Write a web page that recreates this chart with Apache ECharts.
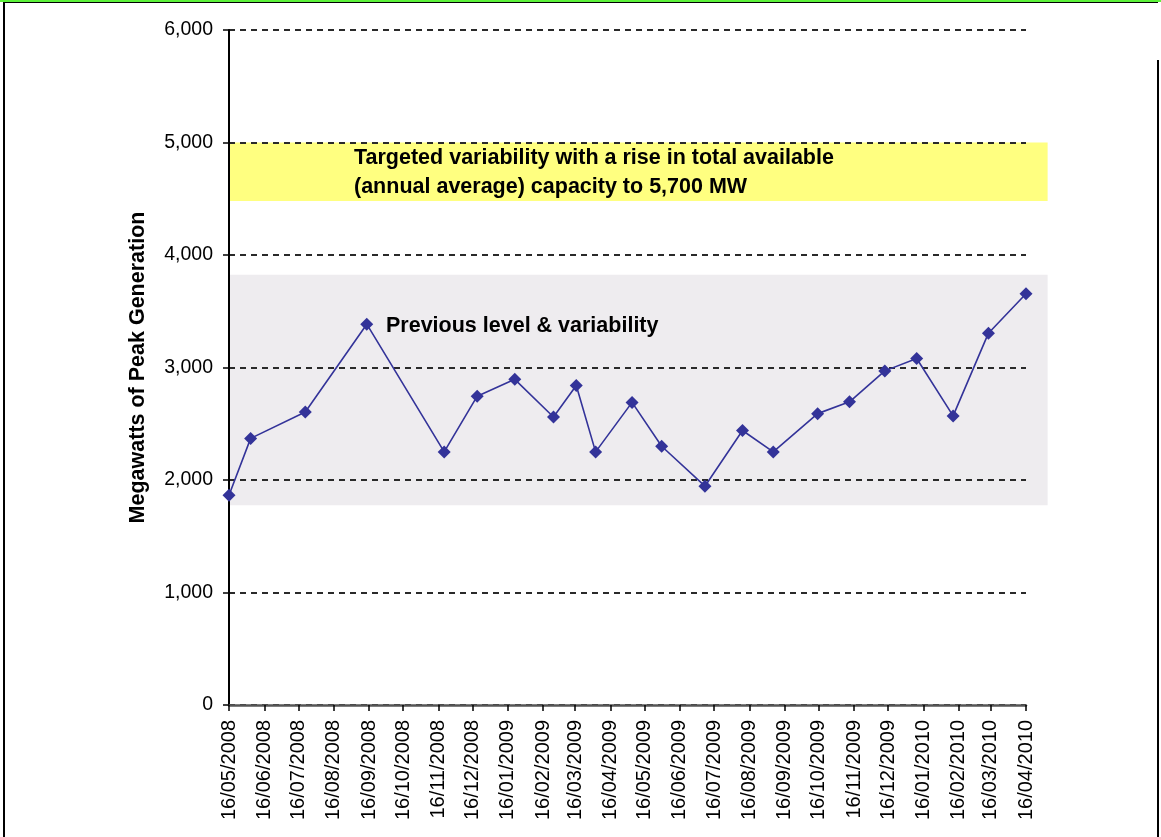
<!DOCTYPE html>
<html>
<head>
<meta charset="utf-8">
<title>Megawatts of Peak Generation</title>
<script src="https://cdn.jsdelivr.net/npm/echarts@6/dist/echarts.min.js"></script>
<style>
  html, body { margin: 0; padding: 0; background: #fff; }
  #chart { position: absolute; left: 0; top: 0; width: 1161px; height: 837px; }
  .edge-green { position: absolute; left: 0; top: 0; width: 1161px; height: 2px; background: #5cf23a; }
  .edge-top { position: absolute; left: 3px; top: 2px; width: 1155px; height: 1px; background: #000; }
  .edge-left { position: absolute; left: 3px; top: 2px; width: 2px; height: 835px; background: #000; }
  .edge-right { position: absolute; left: 1157px; top: 60px; width: 2px; height: 777px; background: #000; }
</style>
</head>
<body>
<div id="chart"></div>
<div class="edge-green"></div>
<div class="edge-top"></div>
<div class="edge-left"></div>
<div class="edge-right"></div>
<script>
// x axis tick labels (one per month, on the 16th)
const tickLabels = [
  '16/05/2008', '16/06/2008', '16/07/2008', '16/08/2008', '16/09/2008', '16/10/2008',
  '16/11/2008', '16/12/2008', '16/01/2009', '16/02/2009', '16/03/2009', '16/04/2009',
  '16/05/2009', '16/06/2009', '16/07/2009', '16/08/2009', '16/09/2009', '16/10/2009',
  '16/11/2009', '16/12/2009', '16/01/2010', '16/02/2010', '16/03/2010', '16/04/2010'
]

// peak generation readings (MW)
const pointDates = [
  '16/05/2008', '04/06/2008', '22/07/2008', '14/09/2008', '21/11/2008', '20/12/2008',
  '22/01/2009', '25/02/2009', '17/03/2009', '03/04/2009', '05/05/2009', '31/05/2009',
  '08/07/2009', '10/08/2009', '06/09/2009', '15/10/2009', '12/11/2009', '13/12/2009',
  '10/01/2010', '11/02/2010', '14/03/2010', '16/04/2010'
]
const peakMW = [
  1865, 2370, 2605, 3385, 2250, 2745,
  2895, 2560, 2840, 2250, 2690, 2300,
  1945, 2440, 2250, 2590, 2695, 2970,
  3080, 2570, 3305, 3655
]

// shaded bands: [low, high] in MW, spanning bandDates
const targetBand = [4480, 5000]
const previousBand = [1775, 3825]
const bandDates = ['16/05/2008', '05/05/2010']

const toTime = s => {
  const [d, m, y] = s.split('/').map(Number)
  return Date.UTC(y, m - 1, d)
}
const pad = n => (n < 10 ? '0' : '') + n
const fmtDate = v => {
  const d = new Date(v)
  return pad(d.getUTCDate()) + '/' + pad(d.getUTCMonth() + 1) + '/' + d.getUTCFullYear()
}

const tickTimes = tickLabels.map(toTime)
const font = 'Arial, "Liberation Sans", sans-serif'

const chart = echarts.init(document.getElementById('chart'))

const option = {
  animation: false,
  textStyle: { fontFamily: font },
  grid: { left: 229, right: 135, top: 30, bottom: 132 },
  xAxis: {
    type: 'value',
    min: tickTimes[0],
    max: tickTimes[tickTimes.length - 1],
    axisLine: { show: true, lineStyle: { color: '#555', width: 2.5 } },
    axisTick: {
      show: true,
      customValues: tickTimes,
      length: 6,
      lineStyle: { color: '#000', width: 1.5 }
    },
    axisLabel: {
      customValues: tickTimes,
      rotate: 90,
      fontSize: 20,
      color: '#000',
      margin: 15,
      formatter: v => fmtDate(v)
    },
    splitLine: { show: false }
  },
  yAxis: {
    type: 'value',
    min: 0,
    max: 6000,
    interval: 1000,
    name: 'Megawatts of Peak Generation',
    nameLocation: 'middle',
    nameGap: 80,
    nameTextStyle: { fontSize: 21.5, fontWeight: 'bold', color: '#000' },
    axisLine: { show: true, lineStyle: { color: '#000', width: 2 } },
    axisTick: { show: true, length: 6, lineStyle: { color: '#000', width: 1.5 } },
    axisLabel: {
      fontSize: 19.5,
      color: '#000',
      margin: 16,
      formatter: v => v.toLocaleString('en-US')
    },
    splitLine: { lineStyle: { color: '#2a2a2a', width: 2, type: [6, 5] } }
  },
  series: [
    {
      name: 'bands',
      type: 'custom',
      z: -1,
      silent: true,
      encode: { x: [0, 1], y: [2, 3] },
      renderItem: (params, api) => {
        const p0 = api.coord([api.value(0), api.value(3)])
        const p1 = api.coord([api.value(1), api.value(2)])
        return {
          type: 'rect',
          shape: { x: p0[0], y: p0[1], width: p1[0] - p0[0], height: p1[1] - p0[1] },
          style: { fill: api.visual('color') }
        }
      },
      data: [
        {
          value: [toTime(bandDates[0]), toTime(bandDates[1]), targetBand[0], targetBand[1]],
          itemStyle: { color: '#ffff80' }
        },
        {
          value: [toTime(bandDates[0]), toTime(bandDates[1]), previousBand[0], previousBand[1]],
          itemStyle: { color: '#eeecef' }
        }
      ]
    },
    {
      name: 'Peak generation',
      type: 'line',
      clip: false,
      symbol: 'diamond',
      symbolSize: 13,
      itemStyle: { color: '#333399' },
      lineStyle: { color: '#333399', width: 1.6 },
      data: pointDates.map((d, i) => [toTime(d), peakMW[i]])
    }
  ],
  graphic: [
    {
      type: 'text', x: 354, y: 158.5,
      style: {
        text: 'Targeted variability with a rise in total available',
        fill: '#000', fontSize: 21.5, fontWeight: 'bold', fontFamily: font, verticalAlign: 'middle'
      }
    },
    {
      type: 'text', x: 354, y: 186.7,
      style: {
        text: '(annual average) capacity to 5,700 MW',
        fill: '#000', fontSize: 21.5, fontWeight: 'bold', fontFamily: font, verticalAlign: 'middle'
      }
    },
    {
      type: 'text', x: 386, y: 326,
      style: {
        text: 'Previous level & variability',
        fill: '#000', fontSize: 21.5, fontWeight: 'bold', fontFamily: font, verticalAlign: 'middle'
      }
    }
  ]
}

chart.setOption(option)
</script>
</body>
</html>
